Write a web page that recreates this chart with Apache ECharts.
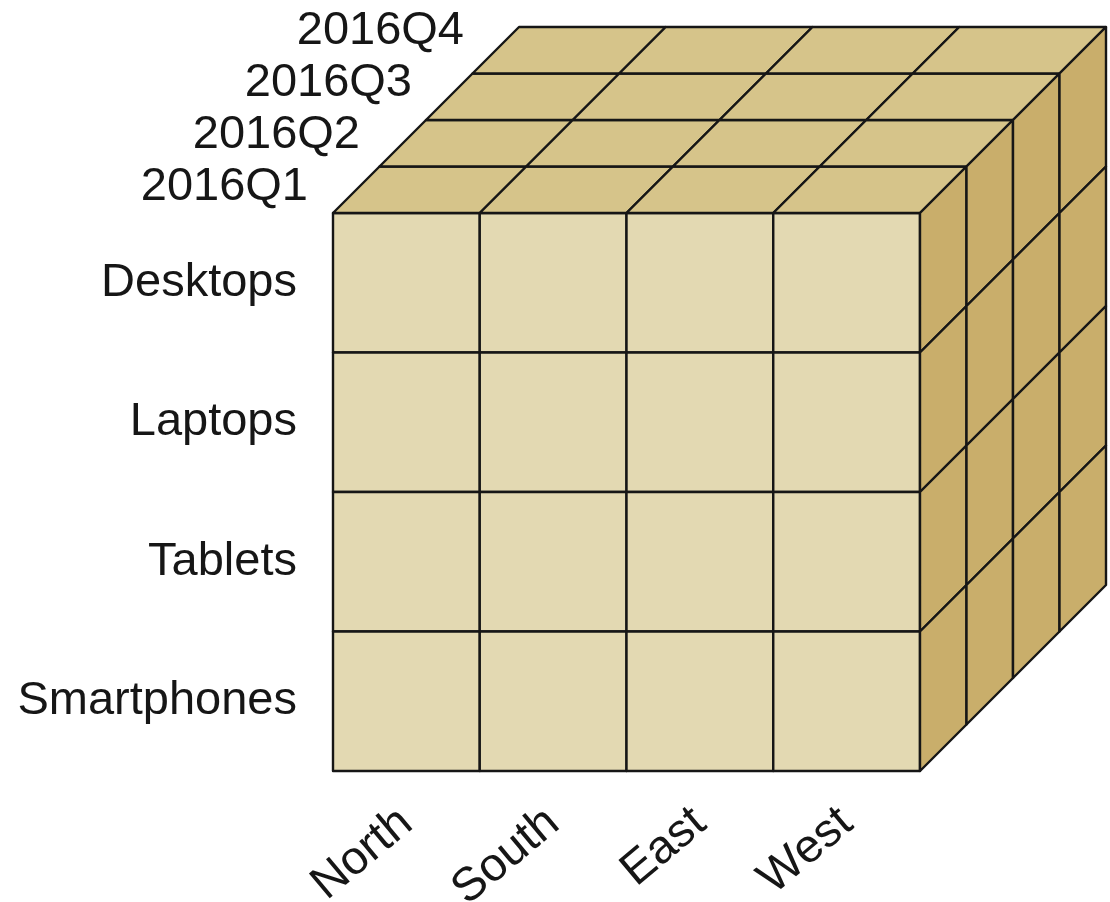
<!DOCTYPE html>
<html>
<head>
<meta charset="utf-8">
<script src="https://cdn.jsdelivr.net/npm/echarts@6/dist/echarts.min.js"></script>
<style>
    html, body { margin: 0; background: #fff; }
    #chart { width: 1110px; height: 902px; }
</style>
</head>
<body>
<div id="chart"></div>
<script>
// data cube dimensions
const regions = ['North', 'South', 'East', 'West'];
const products = ['Desktops', 'Laptops', 'Tablets', 'Smartphones'];
const quarters = ['2016Q1', '2016Q2', '2016Q3', '2016Q4'];

const FRONT = '#E3D9B2', TOP = '#D6C48A', SIDE = '#C9AE6B', EDGE = '#161616';
const FONT = '"Liberation Sans", Arial, Helvetica, sans-serif';
const DEPTH = 46.5;    // px per quarter slice (oblique projection)
const LABEL_STEP = 52; // quarter labels step a bit wider than slices

// cells of each visible face, built from the categories
const frontCells = [], topCells = [], sideCells = [], quarterRows = [];
regions.forEach((r, i) => products.forEach((p, j) => frontCells.push([i, j])));
regions.forEach((r, i) => quarters.forEach((q, k) => topCells.push([i, k])));
quarters.forEach((q, k) => products.forEach((p, j) => sideCells.push([k, j])));
quarters.forEach((q, k) => quarterRows.push([0, k]));

const edgeStyle = fill => ({ fill: fill, stroke: EDGE, lineWidth: 2.4, lineJoin: 'round' });

function renderFront(params, api) {
    const c = api.coord([api.value(0), api.value(1)]);
    const s = api.size([1, 1]);
    return {
        type: 'rect',
        shape: { x: c[0] - s[0] / 2, y: c[1] - s[1] / 2, width: s[0], height: s[1] },
        style: edgeStyle(FRONT)
    };
}

function renderTop(params, api) {
    const q = api.value(1);
    const c = api.coord([api.value(0), 0]);
    const s = api.size([1, 1]);
    const x0 = c[0] - s[0] / 2, x1 = c[0] + s[0] / 2, y = c[1] - s[1] / 2;
    const a = DEPTH * q, b = DEPTH * (q + 1);
    return {
        type: 'polygon',
        shape: { points: [ [x0 + a, y - a], [x1 + a, y - a], [x1 + b, y - b], [x0 + b, y - b] ] },
        style: edgeStyle(TOP)
    };
}

function renderSide(params, api) {
    const q = api.value(0);
    const c = api.coord([regions.length - 1, api.value(1)]);
    const s = api.size([1, 1]);
    const x = c[0] + s[0] / 2, y0 = c[1] - s[1] / 2, y1 = c[1] + s[1] / 2;
    const a = DEPTH * q, b = DEPTH * (q + 1);
    return {
        type: 'polygon',
        shape: { points: [ [x + a, y0 - a], [x + b, y0 - b], [x + b, y1 - b], [x + a, y1 - a] ] },
        style: edgeStyle(SIDE)
    };
}

function renderQuarterLabel(params, api) {
    const q = api.value(1);
    const c = api.coord([0, 0]);
    const s = api.size([1, 1]);
    const x = c[0] - s[0] / 2, y = c[1] - s[1] / 2;
    return {
        type: 'text',
        style: {
            x: x - 25 + LABEL_STEP * q,
            y: y - 26 - LABEL_STEP * q,
            text: quarters[q],
            fill: EDGE,
            fontSize: 47,
            fontFamily: FONT,
            align: 'right',
            verticalAlign: 'middle'
        }
    };
}

const myChart = echarts.init(document.getElementById('chart'));
myChart.setOption({
    animation: false,
    grid: { left: 333, top: 213, width: 587, height: 558, outerBoundsMode: 'none' },
    xAxis: {
        type: 'category', data: regions,
        axisLine: { show: false }, axisTick: { show: false }, splitLine: { show: false },
        axisLabel: { rotate: 40, margin: 46, fontSize: 47, fontFamily: FONT, color: EDGE }
    },
    yAxis: {
        type: 'category', data: products, inverse: true,
        axisLine: { show: false }, axisTick: { show: false }, splitLine: { show: false },
        axisLabel: { margin: 36, fontSize: 47, fontFamily: FONT, color: EDGE }
    },
    series: [
        { type: 'custom', silent: true, renderItem: renderFront, data: frontCells },
        { type: 'custom', silent: true, renderItem: renderTop, data: topCells },
        { type: 'custom', silent: true, renderItem: renderSide, data: sideCells },
        { type: 'custom', silent: true, renderItem: renderQuarterLabel, data: quarterRows }
    ]
});
</script>
</body>
</html>
